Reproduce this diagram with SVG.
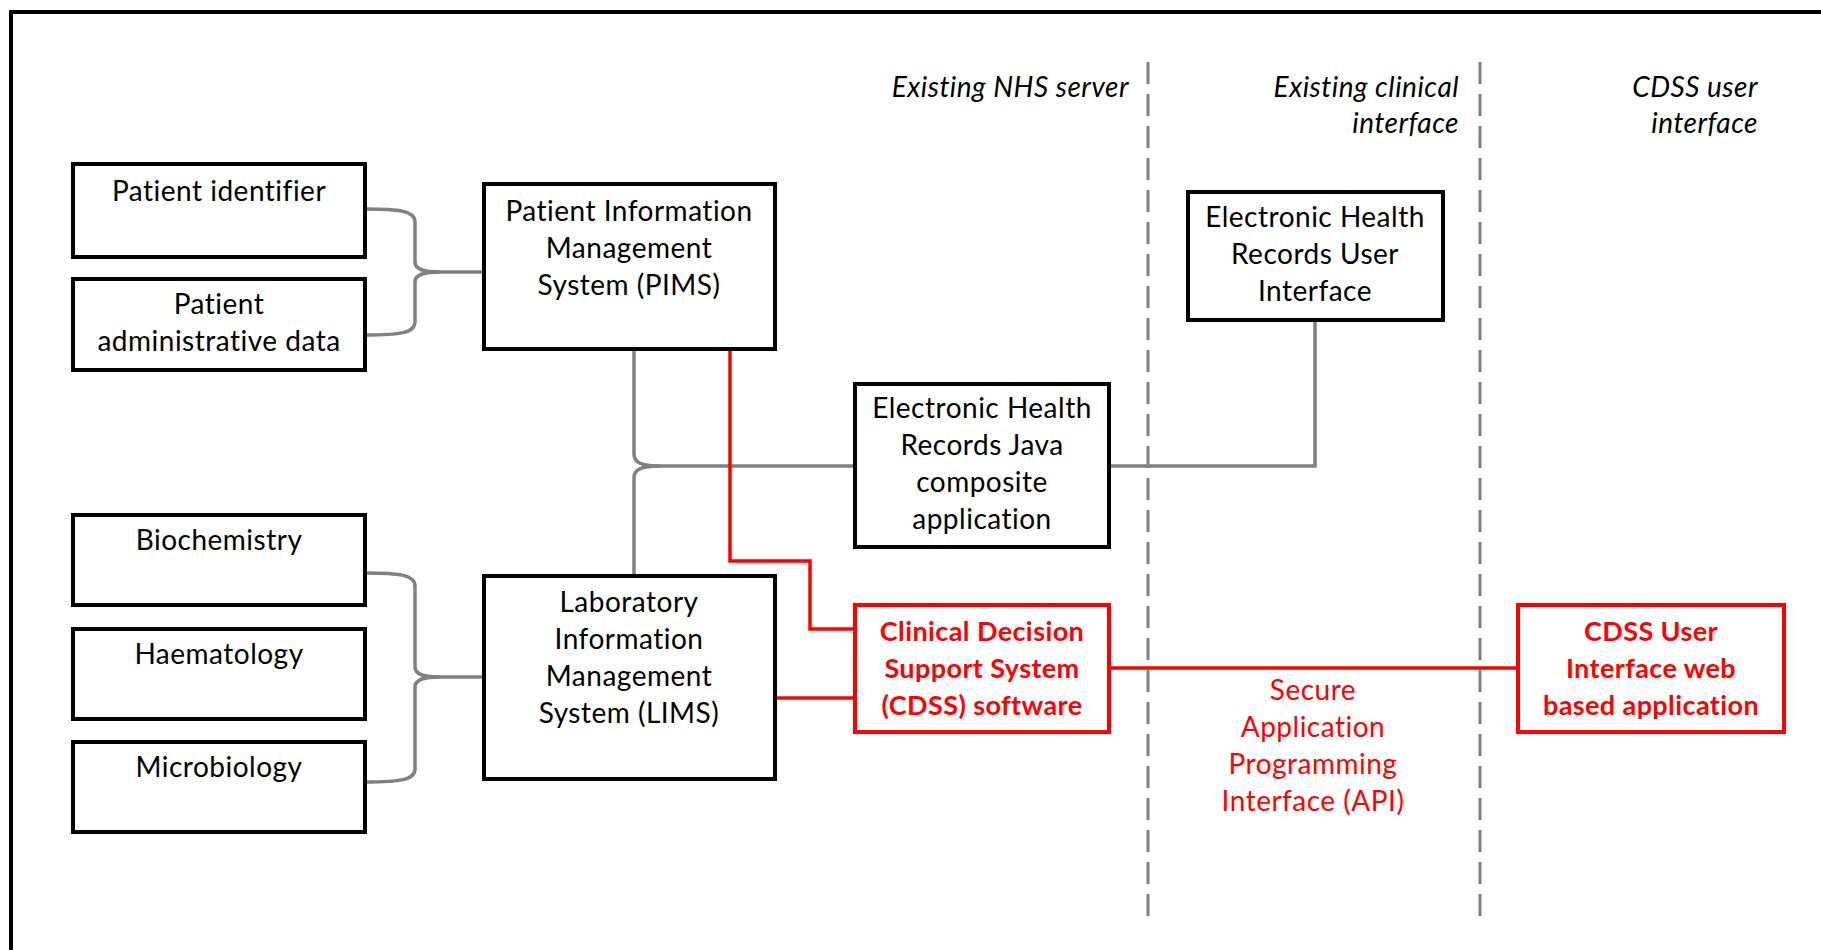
<svg xmlns="http://www.w3.org/2000/svg" width="1821" height="950" viewBox="0 0 1821 950">
  <style>
    .box { fill: #ffffff; stroke: #000000; stroke-width: 4; }
    .rbox { fill: #ffffff; stroke: #ff0000; stroke-width: 4; }
    .lbl { font-family: Lato, "Liberation Sans", sans-serif; font-size: 28px; letter-spacing: 0.5px; fill: #000000; text-anchor: middle; }
    .rlbl { font-family: Lato, "Liberation Sans", sans-serif; font-size: 27px; letter-spacing: 0.4px; font-weight: bold; fill: #ff0000; text-anchor: middle; }
    .api { font-family: Lato, "Liberation Sans", sans-serif; font-size: 28px; letter-spacing: 0.5px; fill: #ff0000; text-anchor: middle; }
    .zone { font-family: Lato, "Liberation Sans", sans-serif; font-size: 28px; letter-spacing: 0.5px; font-style: italic; fill: #000000; text-anchor: end; }
    .gray { fill: none; stroke: #808080; stroke-width: 3.5; }
    .red { fill: none; stroke: #ff0000; stroke-width: 3.5; }
    .divider { fill: none; stroke: #808080; stroke-width: 3; stroke-dasharray: 22 10; }
  </style>

  <rect width="1821" height="950" fill="#ffffff"/>
  <!-- outer frame -->
  <rect x="11" y="12" width="1840" height="970" fill="none" stroke="#000000" stroke-width="4"/>

  <!-- zone dividers and headings -->
  <g id="zones">
    <line class="divider" x1="1148" y1="62" x2="1148" y2="926"/>
    <line class="divider" x1="1480" y1="62" x2="1480" y2="926"/>
    <text class="zone" x="1129" y="97">Existing NHS server</text>
    <text class="zone" x="1459" y="97">Existing clinical</text>
    <text class="zone" x="1459" y="133">interface</text>
    <text class="zone" x="1758" y="97">CDSS user</text>
    <text class="zone" x="1758" y="133">interface</text>
  </g>

  <!-- connectors -->
  <g id="connectors">
    <!-- patient data brace into PIMS -->
    <path class="gray" d="M365,209 C400,209 415,211 415,222 V262 C415,270 425,272 440,272 H484"/>
    <path class="gray" d="M365,335 C400,335 415,333 415,322 V282 C415,274 425,272 440,272"/>
    <!-- lab department brace into LIMS -->
    <path class="gray" d="M365,573 C400,573 415,575 415,586 V667 C415,675 425,677 440,677 H484"/>
    <path class="gray" d="M365,782 C400,782 415,780 415,769 V687 C415,679 425,677 440,677"/>
    <!-- PIMS / LIMS brace into EHR Java application -->
    <path class="gray" d="M634,350 V454 C634,462 640,466 660,466 H855"/>
    <path class="gray" d="M634,574 V478 C634,470 640,466 660,466"/>
    <!-- EHR Java application to EHR user interface -->
    <path class="gray" d="M1109,466 H1315 V321"/>
    <!-- PIMS to CDSS -->
    <path class="red" d="M730,350 V561 H810 V629 H855"/>
    <!-- LIMS to CDSS -->
    <path class="red" d="M775,698 H855"/>
    <!-- CDSS to CDSS user interface (secure API) -->
    <path class="red" d="M1109,668 H1518"/>
  </g>

  <g id="patient-identifier">
    <rect class="box" x="73" y="164" width="292" height="93"/>
    <text class="lbl" x="219" y="201">Patient identifier</text>
  </g>

  <g id="patient-admin">
    <rect class="box" x="73" y="279" width="292" height="91"/>
    <text class="lbl" x="219" y="314">Patient</text>
    <text class="lbl" x="219" y="351">administrative data</text>
  </g>

  <g id="pims">
    <rect class="box" x="484" y="184" width="291" height="165"/>
    <text class="lbl" x="629" y="221">Patient Information</text>
    <text class="lbl" x="629" y="258">Management</text>
    <text class="lbl" x="629" y="295">System (PIMS)</text>
  </g>

  <g id="biochemistry">
    <rect class="box" x="73" y="515" width="292" height="90"/>
    <text class="lbl" x="219" y="550">Biochemistry</text>
  </g>

  <g id="haematology">
    <rect class="box" x="73" y="629" width="292" height="90"/>
    <text class="lbl" x="219" y="664">Haematology</text>
  </g>

  <g id="microbiology">
    <rect class="box" x="73" y="742" width="292" height="90"/>
    <text class="lbl" x="219" y="777">Microbiology</text>
  </g>

  <g id="lims">
    <rect class="box" x="484" y="576" width="291" height="203"/>
    <text class="lbl" x="629" y="612">Laboratory</text>
    <text class="lbl" x="629" y="649">Information</text>
    <text class="lbl" x="629" y="686">Management</text>
    <text class="lbl" x="629" y="723">System (LIMS)</text>
  </g>

  <g id="ehr-java">
    <rect class="box" x="855" y="384" width="254" height="163"/>
    <text class="lbl" x="982" y="418">Electronic Health</text>
    <text class="lbl" x="982" y="455">Records Java</text>
    <text class="lbl" x="982" y="492">composite</text>
    <text class="lbl" x="982" y="529">application</text>
  </g>

  <g id="ehr-ui">
    <rect class="box" x="1188" y="192" width="255" height="128"/>
    <text class="lbl" x="1315" y="227">Electronic Health</text>
    <text class="lbl" x="1315" y="264">Records User</text>
    <text class="lbl" x="1315" y="301">Interface</text>
  </g>

  <g id="cdss">
    <rect class="rbox" x="855" y="605" width="254" height="127"/>
    <text class="rlbl" x="982" y="641">Clinical Decision</text>
    <text class="rlbl" x="982" y="678">Support System</text>
    <text class="rlbl" x="982" y="715">(CDSS) software</text>
  </g>

  <g id="cdss-ui">
    <rect class="rbox" x="1518" y="605" width="266" height="127"/>
    <text class="rlbl" x="1651" y="641">CDSS User</text>
    <text class="rlbl" x="1651" y="678">Interface web</text>
    <text class="rlbl" x="1651" y="715">based application</text>
  </g>

  <g id="api-label">
    <text class="api" x="1313" y="700">Secure</text>
    <text class="api" x="1313" y="737">Application</text>
    <text class="api" x="1313" y="774">Programming</text>
    <text class="api" x="1313" y="811">Interface (API)</text>
  </g>
</svg>
